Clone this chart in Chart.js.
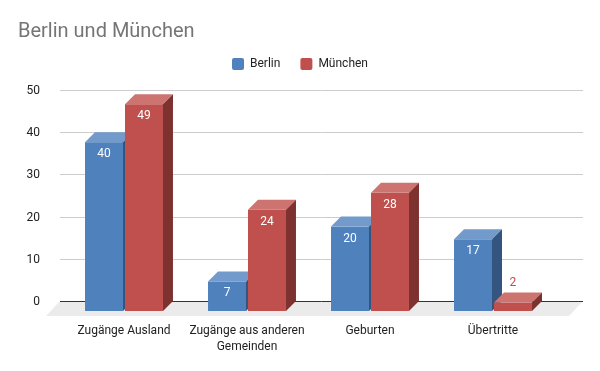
<!DOCTYPE html>
<html>
<head>
<meta charset="utf-8">
<script src="https://cdn.jsdelivr.net/npm/chart.js@4"></script>
<style>
  html, body { margin: 0; padding: 0; background: #fff; }
</style>
</head>
<body>
<canvas id="chart" width="600" height="371"></canvas>
<script>
const categories = ["Zugänge Ausland", ["Zugänge aus anderen", "Gemeinden"], "Geburten", "Übertritte"];
const berlin = [40, 7, 20, 17];
const muenchen = [49, 24, 28, 2];
const yTicks = [0, 10, 20, 30, 40, 50];

// front / top / side colours per series
const shades = [
  { front: "#4f81bd", top: "#729acb", side: "#345580" },
  { front: "#c0504d", top: "#cd7370", side: "#7e3230" }
];
const DEPTH = 10;

const bars3d = {
  id: "bars3d",
  beforeDatasetsDraw(chart) {
    const { ctx, chartArea: a, scales: { y } } = chart;
    const left = a.left - 12.5, right = a.right + 18.5;
    const base = Math.round(y.getPixelForValue(0));
    ctx.save();

    // grid lines on the back wall
    ctx.strokeStyle = "#cccccc";
    ctx.lineWidth = 1;
    yTicks.forEach(v => {
      if (v === 0) return;
      const py = Math.round(y.getPixelForValue(v)) + 0.5;
      ctx.beginPath(); ctx.moveTo(left, py); ctx.lineTo(right, py); ctx.stroke();
    });

    // floor
    ctx.fillStyle = "#ebebeb";
    ctx.beginPath();
    ctx.moveTo(left, base); ctx.lineTo(right, base);
    ctx.lineTo(right - 14, base + 15); ctx.lineTo(left - 14, base + 15);
    ctx.closePath(); ctx.fill();

    // zero line
    ctx.strokeStyle = "#333333";
    ctx.beginPath(); ctx.moveTo(left, base + 0.5); ctx.lineTo(right, base + 0.5); ctx.stroke();

    // bars, left to right
    chart.data.labels.forEach((_, i) => {
      chart.data.datasets.forEach((ds, d) => {
        const bar = chart.getDatasetMeta(d).data[i];
        const c = shades[d];
        const xl = bar.x - bar.width / 2, xr = bar.x + bar.width / 2;
        const yt = bar.y, yb = bar.base;
        // front
        ctx.fillStyle = c.front;
        ctx.fillRect(xl - DEPTH, yt + DEPTH, xr - xl, yb - yt);
        // top
        ctx.fillStyle = c.top;
        ctx.beginPath();
        ctx.moveTo(xl - DEPTH, yt + DEPTH); ctx.lineTo(xl, yt);
        ctx.lineTo(xr, yt); ctx.lineTo(xr - DEPTH, yt + DEPTH);
        ctx.closePath(); ctx.fill();
        // side
        ctx.fillStyle = c.side;
        ctx.beginPath();
        ctx.moveTo(xr - DEPTH, yt + DEPTH); ctx.lineTo(xr, yt);
        ctx.lineTo(xr, yb); ctx.lineTo(xr - DEPTH, yb + DEPTH);
        ctx.closePath(); ctx.fill();

        // value label
        ctx.font = "12px Roboto";
        ctx.textAlign = "center";
        ctx.textBaseline = "middle";
        const fx = bar.x - DEPTH;
        if (yb - yt > 22) {
          ctx.fillStyle = "#ffffff";
          ctx.fillText(ds.data[i], fx, yt + DEPTH + 12);
        } else {
          ctx.fillStyle = c.front;
          ctx.fillText(ds.data[i], fx, yt - 9.5);
        }
      });
    });
    ctx.restore();
    return false;
  }
};

new Chart(document.getElementById("chart"), {
  type: "bar",
  data: {
    labels: categories,
    datasets: [
      { label: "Berlin", data: berlin, backgroundColor: shades[0].front, borderWidth: 0 },
      { label: "München", data: muenchen, backgroundColor: shades[1].front, borderWidth: 0 }
    ]
  },
  options: {
    responsive: false,
    animation: false,
    devicePixelRatio: 1,
    categoryPercentage: 0.65,
    barPercentage: 0.95,
    layout: { padding: { left: 18, right: 18, top: 0, bottom: 18 } },
    plugins: {
      title: {
        display: true, text: "Berlin und München", align: "start", color: "#757575",
        font: { family: "Roboto", size: 20, weight: "normal" },
        padding: { top: 20, bottom: -6 }
      },
      legend: {
        labels: {
          boxWidth: 12, boxHeight: 12, useBorderRadius: true, borderRadius: 2,
          color: "#222222", font: { family: "Roboto", size: 12 }, padding: 20
        }
      },
      tooltip: { enabled: false }
    },
    scales: {
      x: {
        grid: { display: false, drawTicks: false }, border: { display: false },
        ticks: {
          color: "#222222", font: { family: "Roboto", size: 12, lineHeight: 1.3 },
          padding: 22.5, labelOffset: -10, maxRotation: 0, autoSkip: false
        },
        afterFit(s) { s.height = 52; }
      },
      x2: {
        position: "top",
        grid: { display: false, drawTicks: false }, border: { display: false },
        ticks: { display: false },
        afterFit(s) { s.height = 10; }
      },
      y: {
        min: 0, max: 50,
        grid: { display: false, drawTicks: false }, border: { display: false },
        ticks: { stepSize: 10, color: "#222222", font: { family: "Roboto", size: 12 }, padding: 32.5, labelOffset: 1 },
        afterFit(s) { s.width = 54.5; }
      },
      y2: {
        position: "right",
        grid: { display: false, drawTicks: false }, border: { display: false },
        ticks: { display: false },
        afterFit(s) { s.width = 17.5; }
      }
    }
  },
  plugins: [bars3d]
});
</script>
</body>
</html>
